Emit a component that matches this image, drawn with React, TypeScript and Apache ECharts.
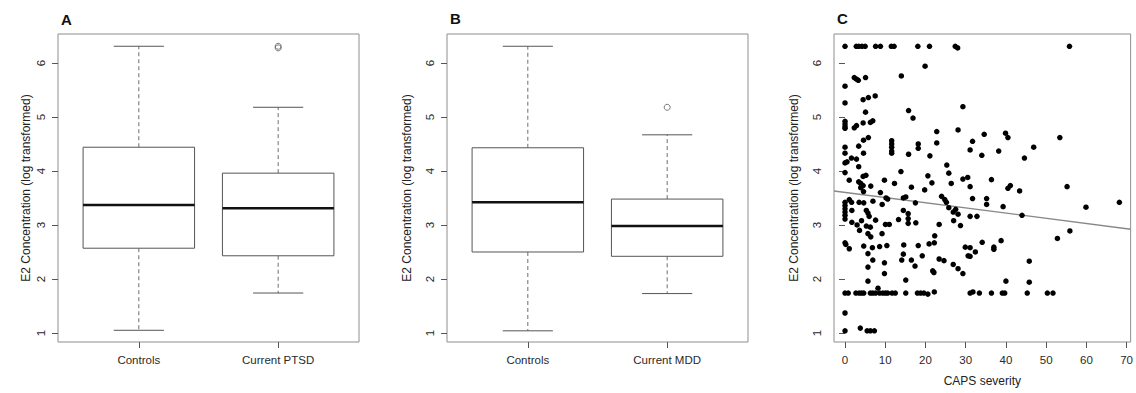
import React, { useEffect, useRef } from 'react';
import * as echarts from 'echarts';

const FONT = '"Liberation Sans", Arial, Helvetica, sans-serif';

// ---- shared axis ticks ----
const yTicks = [1, 2, 3, 4, 5, 6];
const groupTicks = [1, 2];
const capsTicks = [0, 10, 20, 30, 40, 50, 60, 70];
const yTitle = 'E2 Concentration (log transformed)';

// ---- Panel A ----
const catsA = ['Controls', 'Current PTSD'];
// [min, Q1, median, Q3, max]
const boxControlsA = [1.05, 2.57, 3.37, 4.44, 6.31];
const boxPtsdA = [1.74, 2.43, 3.31, 3.96, 5.18];
const outliersA: [number, number][] = [[2, 6.31], [2, 6.28]];

// ---- Panel B ----
const catsB = ['Controls', 'Current MDD'];
const boxControlsB = [1.04, 2.5, 3.42, 4.43, 6.31];
const boxMddB = [1.73, 2.42, 2.98, 3.48, 4.67];
const outliersB: [number, number][] = [[2, 5.18]];

// ---- Panel C : CAPS severity vs E2 ----
const capsTop: [number, number][] = [
  [0, 6.31], [2.8, 6.31], [3.4, 6.31], [4.2, 6.31], [5.0, 6.31], [7.6, 6.31], [8.8, 6.31],
  [11.5, 6.31], [12.2, 6.31], [18.1, 6.31], [21.0, 6.31], [27.4, 6.31], [28.0, 6.28], [55.8, 6.31],
];
const capsUpper: [number, number][] = [
  [19.9, 5.94], [14.0, 5.76], [2.3, 5.73], [2.85, 5.7], [3.3, 5.68], [5.1, 5.73], [0, 5.57],
  [0, 5.26], [4.5, 5.32], [5.8, 5.36], [7.5, 5.39], [29.3, 5.19], [5.1, 5.09], [15.8, 5.12],
  [16.9, 4.98], [0, 4.92], [0, 4.87], [0, 4.82], [0, 4.79], [2.3, 4.8], [2.85, 4.84],
  [4.5, 4.89], [6.3, 4.9], [6.9, 4.93], [22.8, 4.73], [22.8, 4.52], [28.1, 4.76], [34.6, 4.68],
  [39.9, 4.7], [40.5, 4.62], [31.7, 4.55], [31.1, 4.39], [34.0, 4.29], [38.2, 4.37], [46.9, 4.44],
  [44.6, 4.24], [53.4, 4.62], [0, 4.44], [0, 4.33], [0, 4.15], [0.5, 4.17], [1.6, 4.24],
  [2.85, 4.22], [3.4, 4.46], [4.6, 4.57], [5.8, 4.62], [4.6, 4.33], [3.4, 4.08],
  [11.6, 4.56], [11.6, 4.5], [11.6, 4.44], [11.6, 4.37], [11.6, 4.33], [13.9, 3.99],
  [15.8, 4.31], [18.2, 4.5], [18.2, 4.42], [21.1, 4.28], [20.6, 3.91], [21.6, 3.78],
];
const capsMiddle: [number, number][] = [
  [0, 3.97], [1.05, 3.83], [3.4, 3.8], [3.9, 3.77], [4.5, 3.9], [5.2, 3.92], [4.5, 3.73],
  [3.9, 3.69], [4.6, 3.62], [6.4, 3.72], [9.8, 3.83], [12.3, 3.77], [16.5, 3.7], [8.8, 3.6],
  [10.2, 3.5], [10.6, 3.48], [14.5, 3.5], [15.1, 3.52], [19.8, 3.65], [25.3, 4.11], [25.8, 3.96],
  [26.4, 3.77], [29.3, 3.85], [30.5, 3.88], [31.1, 3.71], [36.4, 3.84], [41.1, 3.73],
  [40.5, 3.68], [43.4, 3.63], [55.2, 3.71], [24.0, 3.53], [24.8, 3.47], [25.2, 3.42],
  [25.8, 3.32], [26.9, 3.24], [27.5, 3.29], [28.1, 3.2], [31.7, 3.49], [35.2, 3.49],
  [35.2, 3.38], [39.3, 3.34], [44.0, 3.18], [31.1, 3.16], [32.8, 3.16], [23.4, 3.01],
  [27.0, 3.08], [28.7, 2.99], [59.9, 3.33], [68.2, 3.42], [17.5, 3.41],
  [0, 3.42], [0, 3.36], [0, 3.3], [0, 3.24], [0, 3.18], [0, 3.11], [1.06, 3.47], [1.63, 3.42],
  [3.5, 3.42], [4.65, 3.41], [6.94, 3.44], [9.23, 3.38], [1.7, 3.27], [5.3, 3.27], [5.7, 3.22],
  [6.0, 3.16], [14.5, 3.27], [15.7, 3.21], [15.7, 3.12], [15.7, 3.03], [17.6, 3.04],
  [13.3, 3.1], [10.05, 3.01], [11.0, 3.01], [1.7, 3.05], [3.0, 3.0], [4.1, 3.08], [7.6, 3.09],
];
const capsLower: [number, number][] = [
  [3.6, 2.9], [5.3, 2.98], [6.3, 2.96], [5.7, 2.84], [6.4, 2.78], [9.2, 2.84], [0, 2.67],
  [0.2, 2.64], [1.06, 2.56], [4.65, 2.61], [6.8, 2.58], [8.6, 2.6], [10.4, 2.62], [14.6, 2.63],
  [18.2, 2.62], [20.9, 2.65], [22.2, 2.67], [22.3, 2.8], [5.7, 2.47], [6.9, 2.35], [9.8, 2.3],
  [14.5, 2.46], [14.1, 2.35], [16.5, 2.35], [19.2, 2.43], [5.7, 2.22], [17.4, 2.24], [9.8, 2.1],
  [21.8, 2.15], [22.1, 2.12], [5.7, 1.96], [8.2, 1.83], [15.1, 1.98], [29.9, 2.59], [31.1, 2.58],
  [32.4, 2.5], [30.6, 2.43], [31.1, 2.42], [34.1, 2.68], [37.0, 2.59], [37.0, 2.55], [38.8, 2.71],
  [23.4, 2.37], [24.6, 2.34], [26.9, 2.27], [28.1, 2.19], [29.3, 2.1], [45.8, 2.33], [40.0, 1.96],
  [45.8, 1.94], [52.8, 2.75], [55.9, 2.89],
  [0, 1.37], [0, 1.04], [3.8, 1.09], [5.5, 1.04], [6.3, 1.04], [7.3, 1.04],
];
const capsFloor: [number, number][] = [
  [0, 1.74], [0.8, 1.74], [2.7, 1.74], [3.5, 1.74], [4.1, 1.74], [4.65, 1.74], [6.3, 1.74],
  [6.9, 1.74], [7.6, 1.74], [8.6, 1.74], [9.4, 1.74], [10.05, 1.74], [10.6, 1.74], [11.7, 1.74],
  [12.5, 1.74], [15.1, 1.74], [18.0, 1.74], [18.8, 1.74], [19.6, 1.74], [20.6, 1.72],
  [22.2, 1.76], [31.1, 1.74], [31.8, 1.76], [33.4, 1.74], [36.4, 1.74], [39.1, 1.74],
  [39.7, 1.74], [45.3, 1.74], [50.3, 1.74], [51.7, 1.74],
];
// fitted regression line: E2 = intercept + slope * CAPS
const regIntercept = 3.603;
const regSlope = -0.0096;

// ---- axis ranges (R default 4% extension) ----
const Y_MIN = 0.833;
const Y_MAX = 6.537;
const GX_MIN = 0.42;
const GX_MAX = 2.58;
const CX_MIN = -2.74;
const CX_MAX = 71.0;

const BOX_WEX = 0.8;
const STAPLE_FRAC = 0.45;

const renderBox = (_params: any, api: any) => {
  const x = api.value(0);
  const pMin = api.coord([x, api.value(1)]);
  const pQ1 = api.coord([x, api.value(2)]);
  const pMed = api.coord([x, api.value(3)]);
  const pQ3 = api.coord([x, api.value(4)]);
  const pMax = api.coord([x, api.value(5)]);
  const cx = pMed[0];
  const bw = api.size([BOX_WEX, 0])[0];
  const half = bw / 2;
  const st = half * STAPLE_FRAC;
  const whisk = { stroke: '#6e6e6e', lineWidth: 1, lineDash: [4, 3], fill: null };
  const solid = { stroke: '#555', lineWidth: 1, fill: null };
  return {
    type: 'group',
    children: [
      { type: 'line', shape: { x1: cx, y1: pQ3[1], x2: cx, y2: pMax[1] }, style: whisk },
      { type: 'line', shape: { x1: cx, y1: pQ1[1], x2: cx, y2: pMin[1] }, style: whisk },
      { type: 'line', shape: { x1: cx - st, y1: pMax[1], x2: cx + st, y2: pMax[1] }, style: solid },
      { type: 'line', shape: { x1: cx - st, y1: pMin[1], x2: cx + st, y2: pMin[1] }, style: solid },
      {
        type: 'rect',
        shape: { x: cx - half, y: pQ3[1], width: bw, height: pQ1[1] - pQ3[1] },
        style: { fill: '#fff', stroke: '#555', lineWidth: 1 },
      },
      {
        type: 'line',
        shape: { x1: cx - half, y1: pMed[1], x2: cx + half, y2: pMed[1] },
        style: { stroke: '#111', lineWidth: 2.6 },
      },
    ],
  };
};

const tickStyle = { lineStyle: { color: '#555', width: 1 } };
const labelBase = { fontSize: 11.5, color: '#2a2a2a', fontFamily: FONT };

const makeYAxis = (gridIndex: number, nameGap: number) => ({
  type: 'value',
  gridIndex,
  min: Y_MIN,
  max: Y_MAX,
  axisLine: { show: false },
  splitLine: { show: false },
  axisTick: { show: true, length: 6, customValues: yTicks, ...tickStyle },
  axisLabel: { ...labelBase, customValues: yTicks, rotate: 90, margin: 11 },
  name: yTitle,
  nameLocation: 'middle',
  nameRotate: 90,
  nameGap,
  nameTextStyle: { fontSize: 12, color: '#222', fontFamily: FONT },
});

const makeGroupXAxis = (gridIndex: number, cats: string[]) => ({
  type: 'value',
  gridIndex,
  min: GX_MIN,
  max: GX_MAX,
  axisLine: { show: false },
  splitLine: { show: false },
  axisTick: { show: true, length: 6, customValues: groupTicks, ...tickStyle },
  axisLabel: {
    ...labelBase,
    customValues: groupTicks,
    margin: 12,
    formatter: (v: number) => cats[Math.round(v) - 1] ?? '',
  },
});

const gridBase = {
  top: 34,
  height: 308,
  width: 301,
  show: true,
  borderColor: '#8e8e8e',
  borderWidth: 1,
  backgroundColor: 'transparent',
  containLabel: false,
};

export default function App() {
  const ref = useRef<HTMLDivElement>(null);

  useEffect(() => {
    if (!ref.current) return;
    const chart = echarts.init(ref.current, null, { renderer: 'svg' });

    const scatterC = [...capsTop, ...capsUpper, ...capsMiddle, ...capsLower, ...capsFloor];
    const regLine = [
      [CX_MIN, regIntercept + regSlope * CX_MIN],
      [CX_MAX, regIntercept + regSlope * CX_MAX],
    ];

    const option: any = {
      animation: false,
      backgroundColor: '#fff',
      textStyle: { fontFamily: FONT },
      grid: [
        { ...gridBase, left: 58 },
        { ...gridBase, left: 447 },
        { ...gridBase, left: 834 },
      ],
      xAxis: [
        makeGroupXAxis(0, catsA),
        makeGroupXAxis(1, catsB),
        {
          type: 'value',
          gridIndex: 2,
          min: CX_MIN,
          max: CX_MAX,
          axisLine: { show: false },
          splitLine: { show: false },
          axisTick: { show: true, length: 6, customValues: capsTicks, ...tickStyle },
          axisLabel: { ...labelBase, customValues: capsTicks, margin: 12 },
          name: 'CAPS severity',
          nameLocation: 'middle',
          nameGap: 33,
          nameTextStyle: { fontSize: 12, color: '#222', fontFamily: FONT },
        },
      ],
      yAxis: [makeYAxis(0, 26), makeYAxis(1, 34), makeYAxis(2, 34)],
      graphic: [
        { type: 'text', x: 61, y: 19, style: { text: 'A', font: `bold 15px ${FONT}`, fill: '#111', verticalAlign: 'middle' } },
        { type: 'text', x: 450, y: 18, style: { text: 'B', font: `bold 15px ${FONT}`, fill: '#111', verticalAlign: 'middle' } },
        { type: 'text', x: 837, y: 18, style: { text: 'C', font: `bold 15px ${FONT}`, fill: '#111', verticalAlign: 'middle' } },
      ],
      series: [
        {
          type: 'custom',
          xAxisIndex: 0,
          yAxisIndex: 0,
          renderItem: renderBox,
          encode: { x: 0, y: [1, 2, 3, 4, 5] },
          data: [[1, ...boxControlsA], [2, ...boxPtsdA]],
          silent: true,
        },
        {
          type: 'scatter',
          xAxisIndex: 0,
          yAxisIndex: 0,
          symbol: 'circle',
          symbolSize: 6,
          itemStyle: { color: 'rgba(0,0,0,0)', borderColor: '#555', borderWidth: 1 },
          data: outliersA,
          silent: true,
        },
        {
          type: 'custom',
          xAxisIndex: 1,
          yAxisIndex: 1,
          renderItem: renderBox,
          encode: { x: 0, y: [1, 2, 3, 4, 5] },
          data: [[1, ...boxControlsB], [2, ...boxMddB]],
          silent: true,
        },
        {
          type: 'scatter',
          xAxisIndex: 1,
          yAxisIndex: 1,
          symbol: 'circle',
          symbolSize: 6,
          itemStyle: { color: 'rgba(0,0,0,0)', borderColor: '#555', borderWidth: 1 },
          data: outliersB,
          silent: true,
        },
        {
          type: 'line',
          xAxisIndex: 2,
          yAxisIndex: 2,
          data: regLine,
          symbol: 'none',
          lineStyle: { color: '#888', width: 1.3 },
          silent: true,
          z: 1,
        },
        {
          type: 'scatter',
          xAxisIndex: 2,
          yAxisIndex: 2,
          symbol: 'circle',
          symbolSize: 5.5,
          itemStyle: { color: '#000', opacity: 1 },
          data: scatterC,
          silent: true,
          z: 2,
        },
      ],
    };

    chart.setOption(option);
    return () => chart.dispose();
  }, []);

  return (
    <div
      ref={ref}
      style={{ position: 'fixed', left: 0, top: 0, width: 1136, height: 393, background: '#fff' }}
    />
  );
}
